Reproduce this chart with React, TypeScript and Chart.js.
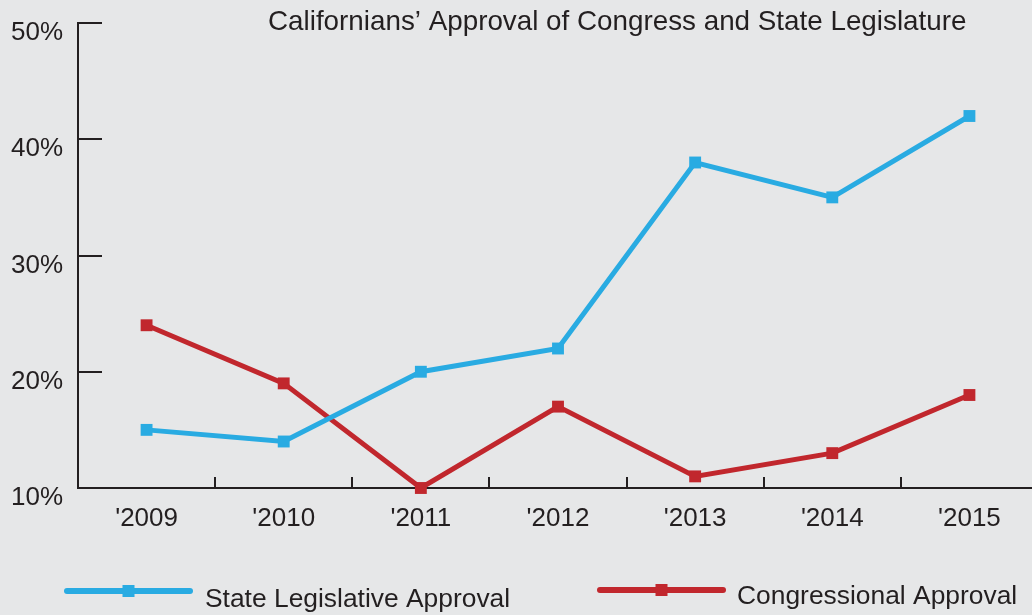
import React, { useEffect, useRef } from "react";
import { Chart, registerables } from "chart.js";

Chart.register(...registerables);

const categories = ["'2009", "'2010", "'2011", "'2012", "'2013", "'2014", "'2015"];
const stateLegislative = [15, 14, 20, 22, 38, 35, 42];
const congressional = [24, 19, 10, 17, 11, 13, 18];
const yTicks = [10, 20, 30, 40, 50];
const titleText = "Californians\u2019 Approval of Congress and State Legislature";
const seriesNames = ["State Legislative Approval", "Congressional Approval"];

const BLUE = "#29abe2";
const RED = "#c1272d";
const INK = "#231f20";
const BG = "#e6e7e8";
const FONT = "'Liberation Sans', Arial, Helvetica, sans-serif";
const CANVAS_W = 1040;

const decorPlugin = {
  id: "decor",
  beforeDraw(chart: any) {
    const { ctx, width, height } = chart;
    ctx.save();
    ctx.fillStyle = BG;
    ctx.fillRect(0, 0, width, height);
    ctx.restore();
  },
  afterDatasetsDraw(chart: any) {
    const { ctx } = chart;
    const xs = chart.scales.x;
    const ys = chart.scales.y;
    const left = chart.chartArea.left;
    const bottom = chart.chartArea.bottom;
    ctx.save();
    ctx.strokeStyle = INK;
    ctx.lineWidth = 2;
    ctx.lineCap = "butt";
    yTicks.forEach((v) => {
      const y = Math.round(ys.getPixelForValue(v));
      ctx.beginPath();
      ctx.moveTo(left, y);
      ctx.lineTo(left + 24, y);
      ctx.stroke();
    });
    for (let i = 1; i < categories.length; i++) {
      const x = Math.round((xs.getPixelForValue(i - 1) + xs.getPixelForValue(i)) / 2);
      ctx.beginPath();
      ctx.moveTo(x, bottom);
      ctx.lineTo(x, bottom - 11);
      ctx.stroke();
    }
    ctx.restore();
  },
  afterDraw(chart: any) {
    const { ctx } = chart;
    ctx.save();
    ctx.fillStyle = INK;
    ctx.font = `27.8px ${FONT}`;
    ctx.textAlign = "left";
    ctx.textBaseline = "middle";
    ctx.fillText(titleText, 268, 22);
    const items = [
      { x0: 67, x1: 190, y: 591, tx: 205, ty: 600, color: BLUE, label: seriesNames[0] },
      { x0: 600, x1: 723, y: 590, tx: 737, ty: 597, color: RED, label: seriesNames[1] },
    ];
    items.forEach((it) => {
      ctx.strokeStyle = it.color;
      ctx.lineWidth = 6;
      ctx.lineCap = "round";
      ctx.beginPath();
      ctx.moveTo(it.x0, it.y);
      ctx.lineTo(it.x1, it.y);
      ctx.stroke();
      ctx.fillStyle = it.color;
      const cx = (it.x0 + it.x1) / 2;
      ctx.fillRect(cx - 6, it.y - 6, 12, 12);
      ctx.fillStyle = INK;
      ctx.font = `26.4px ${FONT}`;
      ctx.textBaseline = "middle";
      ctx.fillText(it.label, it.tx, it.ty);
    });
    ctx.restore();
  },
};

export default function App() {
  const ref = useRef<HTMLCanvasElement | null>(null);

  useEffect(() => {
    document.body.style.margin = "0";
    document.body.style.overflow = "hidden";
    document.body.style.background = BG;
    const canvas = ref.current!;
    canvas.width = CANVAS_W;
    canvas.height = 615;
    const chart = new Chart(canvas, {
      type: "line",
      data: {
        labels: categories,
        datasets: [
          {
            label: seriesNames[0],
            data: stateLegislative,
            borderColor: BLUE,
            backgroundColor: BLUE,
            borderWidth: 5,
            pointStyle: "rect",
            pointRadius: 8.4,
            pointBorderWidth: 0,
            tension: 0,
            clip: false as any,
          },
          {
            label: seriesNames[1],
            data: congressional,
            borderColor: RED,
            backgroundColor: RED,
            borderWidth: 5,
            pointStyle: "rect",
            pointRadius: 8.4,
            pointBorderWidth: 0,
            tension: 0,
            clip: false as any,
          },
        ],
      },
      options: {
        responsive: false,
        maintainAspectRatio: false,
        animation: false,
        devicePixelRatio: 1,
        layout: { autoPadding: false, padding: { left: 0, top: 23, right: 2, bottom: 0 } },
        plugins: {
          legend: { display: false },
          title: { display: false },
          tooltip: { enabled: false },
        },
        scales: {
          x: {
            type: "category",
            offset: true,
            grid: { display: false, drawTicks: false },
            border: { display: true, color: INK, width: 2 },
            ticks: {
              color: INK,
              font: { family: FONT, size: 26 },
              padding: 15.5,
              maxRotation: 0,
              autoSkip: false,
            },
            afterFit: (s: any) => {
              s.height = 127;
              s.paddingLeft = 0;
              s.paddingRight = 0;
            },
          },
          y: {
            type: "linear",
            min: 10,
            max: 50,
            grid: { display: false, drawTicks: false },
            border: { display: true, color: INK, width: 2 },
            ticks: {
              color: INK,
              font: { family: FONT, size: 26 },
              padding: 15,
              labelOffset: 10,
              stepSize: 10,
              callback: (v: any) => `${v}%`,
            },
            afterBuildTicks: (s: any) => {
              s.ticks = yTicks.map((v) => ({ value: v }));
            },
            afterFit: (s: any) => {
              s.width = 78;
              s.paddingTop = 0;
              s.paddingBottom = 0;
            },
          },
        },
      },
      plugins: [decorPlugin],
    });
    return () => chart.destroy();
  }, []);

  return (
    <div style={{ position: "absolute", left: 0, top: 0, width: CANVAS_W, height: 615, overflow: "hidden" }}>
      <canvas
        ref={ref}
        width={CANVAS_W}
        height={615}
        style={{ display: "block", width: CANVAS_W, height: 615, maxWidth: "none" }}
      />
    </div>
  );
}
